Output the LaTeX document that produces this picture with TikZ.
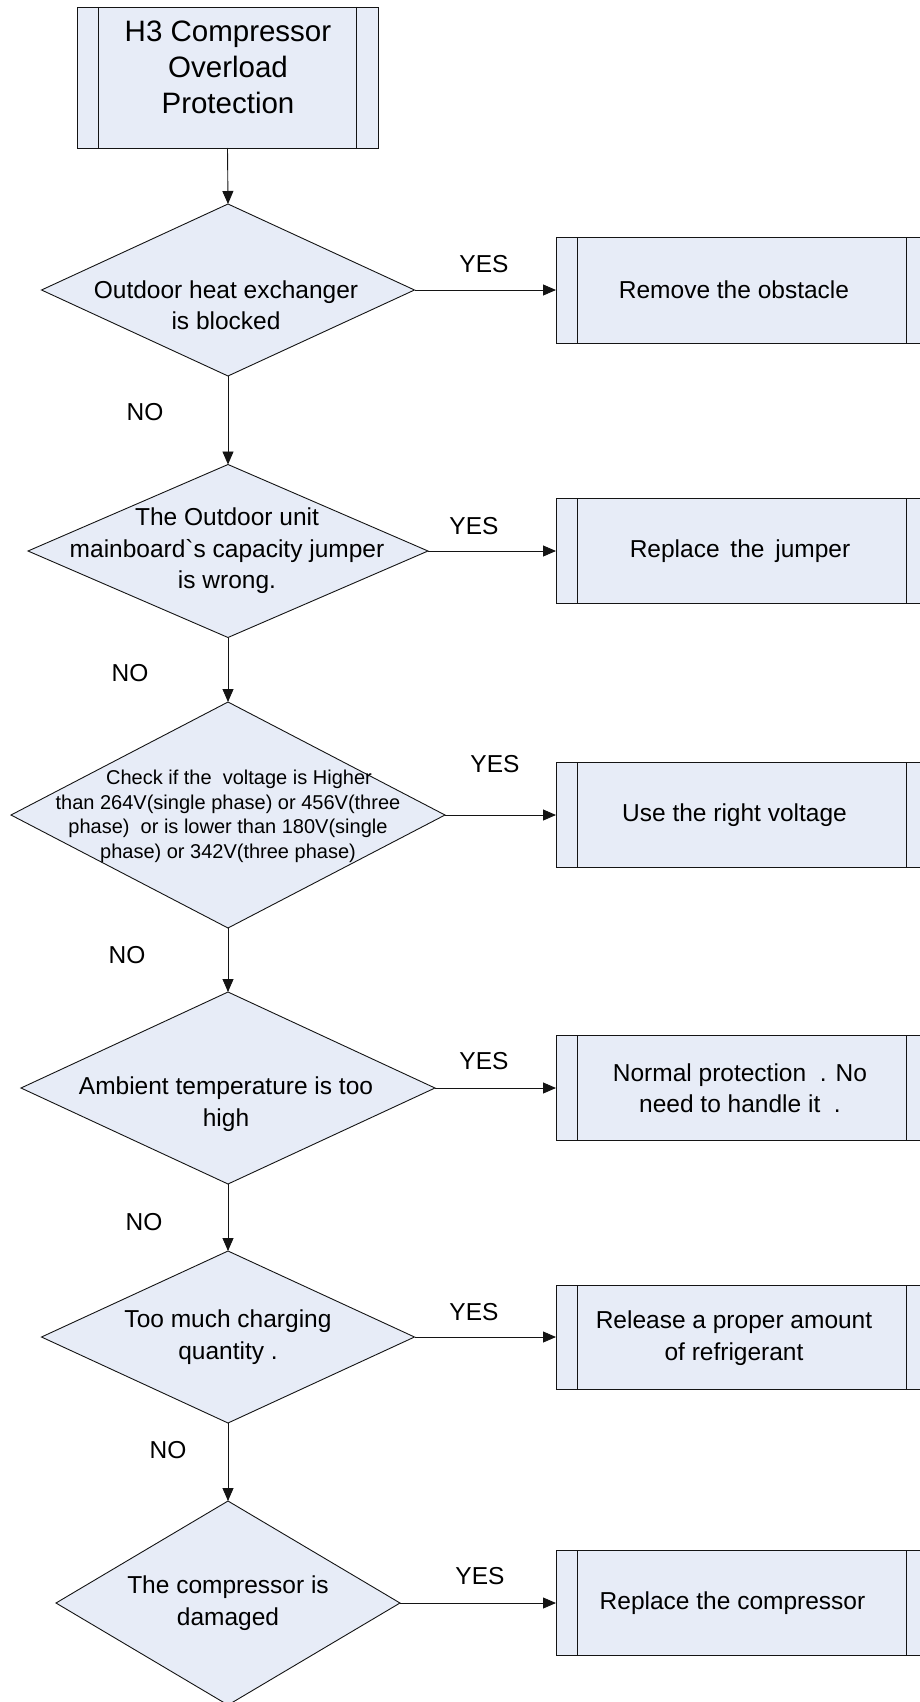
\documentclass[tikz,border=0pt]{standalone}
\usepackage{fontspec}
\setmainfont{Liberation Sans}[Ligatures=TeXOff]
\usetikzlibrary{shapes.geometric,arrows.meta}
\definecolor{fillc}{RGB}{231,236,247}
\definecolor{linec}{RGB}{20,20,20}
\begin{document}
\begin{tikzpicture}[x=1pt,y=-1pt,
  every node/.style={text=black},
  txt/.style={align=center,font=\fontsize{24.5}{31.5}\selectfont,inner sep=0pt},
  smalltxt/.style={align=center,font=\fontsize{20}{24.5}\selectfont,inner sep=0pt},
  titletxt/.style={align=center,font=\fontsize{29.5}{36}\selectfont,inner sep=0pt},
  lbl/.style={font=\fontsize{24.5}{28}\selectfont,inner sep=0pt},
  dec/.style={diamond,draw=linec,fill=fillc,line width=0.9pt,inner sep=0pt,outer sep=0pt},
  proc/.style={rectangle,draw=linec,fill=fillc,line width=0.9pt,inner sep=0pt,outer sep=0pt,
    path picture={
      \draw[linec,line width=0.9pt] ([xshift=21.5pt]path picture bounding box.north west) -- ([xshift=21.5pt]path picture bounding box.south west);
      \draw[linec,line width=0.9pt] ([xshift=-21.5pt]path picture bounding box.north east) -- ([xshift=-21.5pt]path picture bounding box.south east);
    }},
  arr/.style={draw=linec,line width=0.9pt,-{Triangle[length=13pt,width=11pt]}}
]
\useasboundingbox (0,0) rectangle (920,1702);
\clip (0,0) rectangle (920,1702);

% start box
\node[proc,minimum width=301pt,minimum height=141pt] (start) at (227.5,77.5) {};
\node[titletxt] (starttxt) at (228,67) {H3 Compressor\\Overload\\Protection};

% decisions
\node[dec,minimum width=373pt,minimum height=172pt] (d1) at (228,290) {};
\node[dec,minimum width=400pt,minimum height=173pt] (d2) at (228,551) {};
\node[dec,minimum width=434pt,minimum height=226pt] (d3) at (228,815) {};
\node[dec,minimum width=414pt,minimum height=192pt] (d4) at (228,1088) {};
\node[dec,minimum width=373pt,minimum height=172pt] (d5) at (228,1337) {};
\node[dec,minimum width=344pt,minimum height=204pt] (d6) at (228,1603) {};

\node[txt] (d1t) at (226,305) {Outdoor heat exchanger\\is blocked};
\node[txt] (d2t) at (227,551) {The Outdoor unit\\mainboard`s capacity jumper\\is wrong.};
\node[smalltxt] (d3t) at (228,816.5) {\hspace*{22pt}Check if the\ \ voltage is Higher\\than 264V(single phase) or 456V(three\\phase)\ \ or is lower than 180V(single\\phase) or 342V(three phase)};
\node[txt] (d4t) at (226,1104) {Ambient temperature is too\\high};
\node[txt] (d5t) at (228,1337) {Too much charging\\quantity .};
\node[txt] (d6t) at (228,1603) {The compressor is\\damaged};

% action boxes
\node[proc,minimum width=372pt,minimum height=106pt] (b1) at (742,290) {};
\node[proc,minimum width=372pt,minimum height=105pt] (b2) at (742,551) {};
\node[proc,minimum width=372pt,minimum height=105pt] (b3) at (742,815) {};
\node[proc,minimum width=372pt,minimum height=105pt] (b4) at (742,1088) {};
\node[proc,minimum width=372pt,minimum height=104pt] (b5) at (742,1337) {};
\node[proc,minimum width=372pt,minimum height=105pt] (b6) at (742,1603) {};

\node[txt] (b1t) at (734,290) {Remove the obstacle};
\node[txt] (b2t) at (740,551) {Replace\hspace{4pt} the\hspace{4pt} jumper};
\node[txt] (b3t) at (734.5,815) {Use the right voltage};
\node[txt] (b4t) at (740,1088) {Normal protection\ \ . No\\need to handle it\ \ .};
\node[txt] (b5t) at (734,1338) {Release a proper amount\\of refrigerant};
\node[txt] (b6t) at (732.5,1603) {Replace the compressor};

% vertical connectors
\draw[arr] (start.south) -- (d1.north);
\draw[arr] (d1.south) -- (d2.north);
\draw[arr] (d2.south) -- (d3.north);
\draw[arr] (d3.south) -- (d4.north);
\draw[arr] (d4.south) -- (d5.north);
\draw[arr] (d5.south) -- (d6.north);

% horizontal connectors
\draw[arr] (d1.east) -- (b1.west);
\draw[arr] (d2.east) -- (b2.west);
\draw[arr] (d3.east) -- (b3.west);
\draw[arr] (d4.east) -- (b4.west);
\draw[arr] (d5.east) -- (b5.west);
\draw[arr] (d6.east) -- (b6.west);

% labels
\node[lbl] (y1) at (484,264) {YES};
\node[lbl] (y2) at (474,526) {YES};
\node[lbl] (y3) at (495,764) {YES};
\node[lbl] (y4) at (484,1061) {YES};
\node[lbl] (y5) at (474,1312) {YES};
\node[lbl] (y6) at (480,1576) {YES};

\node[lbl] (n1) at (145,412) {NO};
\node[lbl] (n2) at (130,673) {NO};
\node[lbl] (n3) at (127,955) {NO};
\node[lbl] (n4) at (144,1222) {NO};
\node[lbl] (n5) at (168,1450) {NO};
\end{tikzpicture}
\end{document}
